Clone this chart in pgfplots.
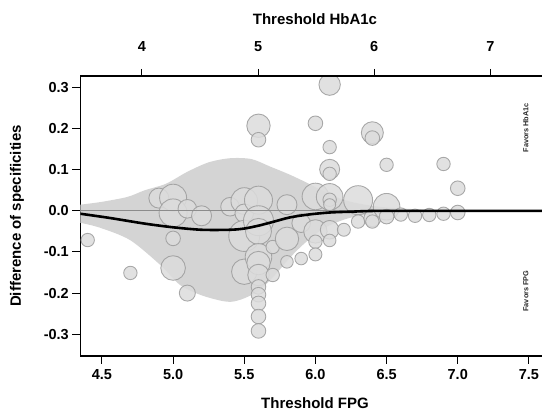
\documentclass[border=0pt]{standalone}
\usepackage{fontspec}
\setmainfont{Liberation Sans}
\usepackage{pgfplots}
\usepackage{pgfplotstable}
\usepgfplotslibrary{fillbetween}
\pgfplotsset{compat=1.18}

\definecolor{bandgray}{HTML}{D4D4D4}
\definecolor{bubfill}{HTML}{DCDCDC}
\definecolor{bubedge}{HTML}{9C9C9C}
\definecolor{zerogray}{HTML}{8C8C8C}

% bubbles: FPG threshold, difference, radius (pt)
\pgfplotstableread{
x y r
4.4 -0.071 6.7
4.7 -0.151 6.7
4.9 0.031 10
5.0 0.032 13.5
5.0 -0.005 14
5.0 -0.067 7.3
5.0 -0.139 12.3
5.1 0.005 9.3
5.1 -0.200 8
5.2 -0.012 10
5.4 0.010 9.3
5.5 0.024 13.3
5.5 -0.006 9.3
5.5 -0.061 15.5
5.5 -0.148 12.7
5.5 -0.367 10
5.6 0.207 11.7
5.6 0.173 7.3
5.6 0.026 14
5.6 -0.024 15
5.6 -0.050 13
5.6 -0.112 13.3
5.6 -0.127 11.7
5.6 -0.156 10.7
5.6 -0.185 7.3
5.6 -0.204 7.3
5.6 -0.225 7.3
5.6 -0.257 7.3
5.6 -0.292 7.3
5.7 -0.088 6.7
5.7 -0.156 6.7
5.8 0.015 10
5.8 -0.068 11.7
5.8 -0.124 6.3
5.9 -0.030 9.3
5.9 -0.116 6.3
6.0 0.213 7.3
6.0 0.035 13.3
6.0 -0.050 11.7
6.0 -0.075 6.7
6.0 -0.106 6.5
6.1 0.307 10.7
6.1 0.155 6.7
6.1 0.101 10
6.1 0.090 6.7
6.1 0.034 13.3
6.1 0.027 6.7
6.1 0.015 6
6.1 -0.046 9.3
6.1 -0.072 6.3
6.2 -0.046 6.5
6.3 0.026 14.5
6.3 -0.026 6.7
6.4 0.190 11
6.4 0.177 7.3
6.4 -0.018 8.5
6.4 -0.026 6.7
6.5 0.112 6.7
6.5 0.010 13.3
6.5 -0.014 7.3
6.6 -0.009 6.7
6.7 -0.012 6.7
6.8 -0.010 6.7
6.9 0.114 6.7
6.9 -0.007 6.7
7.0 0.055 7.3
7.0 -0.004 7.3
}\bubbles

\pgfplotstableread{
x y
4.348 0.015
4.50 0.022
4.68 0.034
4.80 0.050
4.95 0.066
5.10 0.095
5.25 0.118
5.40 0.128
5.55 0.126
5.68 0.108
5.82 0.088
5.96 0.065
6.10 0.040
6.25 0.022
6.45 0.010
6.70 0.004
7.00 0.000
}\bandup

\pgfplotstableread{
x y
4.348 -0.029
4.486 -0.041
4.697 -0.071
4.908 -0.131
5.048 -0.180
5.189 -0.204
5.329 -0.218
5.414 -0.221
5.505 -0.212
5.610 -0.192
5.716 -0.156
5.821 -0.114
5.927 -0.078
6.067 -0.041
6.243 -0.017
6.454 -0.007
6.735 -0.002
7.000 0.000
}\bandlow

\pgfplotstableread{
x y
4.348 -0.007
4.55 -0.017
4.80 -0.031
5.00 -0.040
5.20 -0.046
5.40 -0.046
5.50 -0.043
5.60 -0.036
5.70 -0.027
5.82 -0.016
5.95 -0.009
6.10 -0.004
6.25 -0.002
6.45 0
7.00 0
7.592 0
}\smoothfit

\begin{document}
\begin{tikzpicture}
\begin{axis}[
  at={(80.3pt,57pt)}, anchor=south west,
  scale only axis, width=461.7pt, height=280pt,
  xmin=4.348, xmax=7.592, ymin=-0.353, ymax=0.328,
  axis x line*=bottom, axis y line*=left,
  axis line style={line width=1.2pt, black},
  tick align=outside, major tick length=8pt,
  tick style={black, line width=1pt},
  xtick={4.5,5.0,5.5,6.0,6.5,7.0,7.5},
  ytick={-0.3,-0.2,-0.1,0,0.1,0.2,0.3},
  minor tick num=0,
  ticklabel style={font=\fontsize{14.5}{16}\selectfont\bfseries},
  xticklabel style={yshift=-2pt},
  /pgf/number format/assume math mode=true,
  xticklabel style={/pgf/number format/.cd, fixed, fixed zerofill, precision=1},
  yticklabel style={/pgf/number format/.cd, fixed, fixed zerofill, precision=1},
  clip marker paths=true,
]
\addplot[name path=up, draw=none, smooth] table {\bandup};
\addplot[name path=low, draw=none, smooth] table {\bandlow};
\addplot[bandgray] fill between[of=up and low];

\addplot[scatter, only marks, mark=*,
  scatter/use mapped color={draw=bubedge, fill=bubfill},
  visualization depends on={\thisrow{r} \as \perpointmarksize},
  scatter/@pre marker code/.append style={/tikz/mark size=\perpointmarksize},
  mark options={line width=0.9pt, opacity=0.85}]
  table[x=x, y=y] {\bubbles};

\addplot[zerogray, line width=1.1pt] coordinates {(4.348,0) (7.592,0)};
\addplot[black, line width=2.6pt, smooth] table {\smoothfit};

\node[rotate=90, font=\fontsize{7.3}{9}\selectfont\bfseries, text=black!85] at (axis cs:7.478,0.202) {Favors HbA1c};
\node[rotate=90, font=\fontsize{7.3}{9}\selectfont\bfseries, text=black!85] at (axis cs:7.478,-0.195) {Favors FPG};
\end{axis}

\begin{axis}[
  at={(80.3pt,57pt)}, anchor=south west,
  scale only axis, width=461.7pt, height=280pt,
  xmin=3.470, xmax=7.444, ymin=-0.353, ymax=0.328,
  axis x line*=top, axis y line=none,
  axis line style={line width=1.2pt, black},
  tick align=outside, major tick length=7pt,
  tick style={black, line width=1pt},
  xtick={4,5,6,7}, minor tick num=0,
  ticklabel style={font=\fontsize{14.5}{16}\selectfont\bfseries},
  xticklabel style={yshift=14pt},
  /pgf/number format/assume math mode=true,
]
\addplot[draw=none] coordinates {(4,0)};
\end{axis}

\node[font=\fontsize{15}{18}\selectfont\bfseries] at (315pt,10pt) {Threshold FPG};
\node[font=\fontsize{15}{18}\selectfont\bfseries] at (315pt,394pt) {Threshold HbA1c};
\node[rotate=90, font=\fontsize{15}{18}\selectfont\bfseries] at (17pt,197pt) {Difference of specificities};
\pgfresetboundingbox
\path[use as bounding box] (0,0) rectangle (542pt,413pt);
\end{tikzpicture}
\end{document}
